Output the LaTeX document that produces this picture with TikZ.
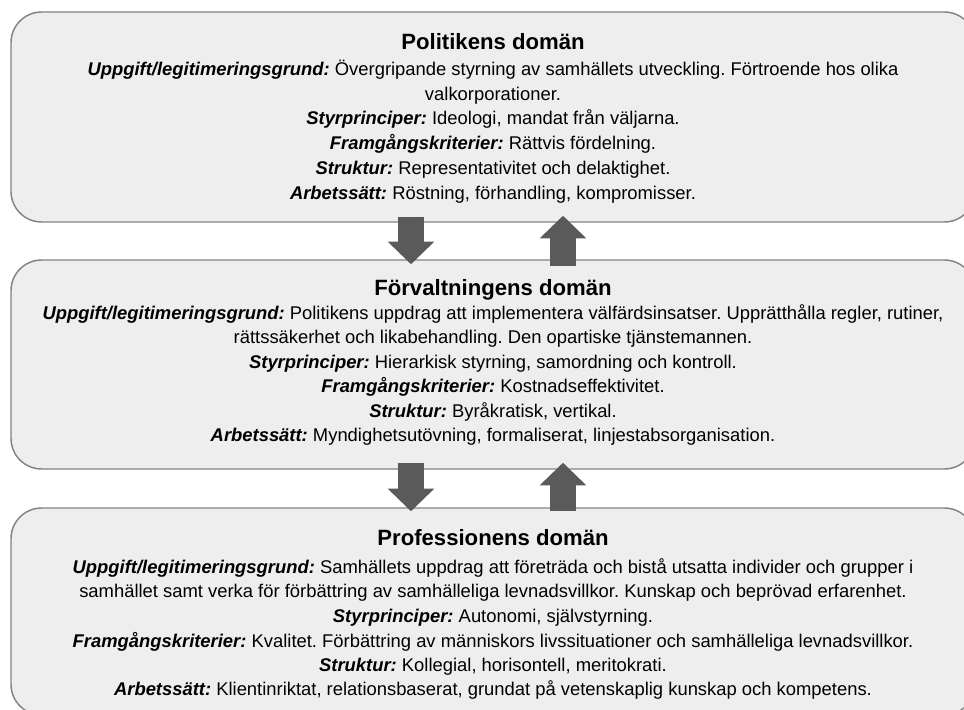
\documentclass[tikz,border=0pt]{standalone}
\usepackage{fontspec}
\setmainfont{Liberation Sans}
\usetikzlibrary{calc,arrows.meta}
\definecolor{boxfill}{HTML}{EEEEEE}
\definecolor{boxline}{HTML}{838383}
\definecolor{arrowgray}{HTML}{5A5A5A}
\newcommand\dlabel[1]{\textbf{\textit{#1}}}
\frenchspacing
\begin{document}
\frenchspacing
\begin{tikzpicture}[x=0.75pt,y=-0.75pt,
  domainbox/.style={draw=boxline, fill=boxfill, line width=1.1pt, rounded corners=23pt,
    minimum width=723pt, inner sep=0pt},
  titletext/.style={font=\fontsize{16.6}{19}\selectfont\bfseries, anchor=base, inner sep=0pt},
  bodytext/.style={font=\fontsize{13.8}{16}\selectfont, anchor=base, inner sep=0pt},
  blockarrow/.style={draw=arrowgray, line width=19pt,
    -{Triangle[width=34pt,length=17pt,fill=arrowgray]}}
]
\useasboundingbox (0,0) rectangle (964,710);
\clip (0,0) rectangle (964,710);
\fill[white] (0,0) rectangle (964,710);

% boxes
\node[domainbox, minimum height=157.5pt] (pol) at (493,117) {};
\node[domainbox, minimum height=156.75pt] (forv) at (493,364.5) {};
\node[domainbox, minimum height=155.25pt] (prof) at (493,611.5) {};

% Politikens domän
\node[titletext] (polT) at ($(pol.north)+(0,38)$) {Politikens domän};
\node[bodytext] (pol1) at ($(pol.north)+(0,64)$) {\dlabel{Uppgift/legitimeringsgrund:} Övergripande styrning av samhällets utveckling. Förtroende hos olika};
\node[bodytext] (pol2) at ($(pol.north)+(0,88.8)$) {valkorporationer.};
\node[bodytext] (pol3) at ($(pol.north)+(0,113.6)$) {\dlabel{Styrprinciper:} Ideologi, mandat från väljarna.};
\node[bodytext] (pol4) at ($(pol.north)+(0,138.4)$) {\dlabel{Framgångskriterier:} Rättvis fördelning.};
\node[bodytext] (pol5) at ($(pol.north)+(0,163.2)$) {\dlabel{Struktur:} Representativitet och delaktighet.};
\node[bodytext] (pol6) at ($(pol.north)+(0,188)$) {\dlabel{Arbetssätt:} Röstning, förhandling, kompromisser.};

% Förvaltningens domän
\node[titletext] (forvT) at ($(forv.north)+(0,36.5)$) {Förvaltningens domän};
\node[bodytext] (forv1) at ($(forv.north)+(0,60)$) {\dlabel{Uppgift/legitimeringsgrund:} Politikens uppdrag att implementera välfärdsinsatser. Upprätthålla regler, rutiner,};
\node[bodytext] (forv2) at ($(forv.north)+(0,84.5)$) {rättssäkerhet och likabehandling. Den opartiske tjänstemannen.};
\node[bodytext] (forv3) at ($(forv.north)+(0,109)$) {\dlabel{Styrprinciper:} Hierarkisk styrning, samordning och kontroll.};
\node[bodytext] (forv4) at ($(forv.north)+(0,133.5)$) {\dlabel{Framgångskriterier:} Kostnadseffektivitet.};
\node[bodytext] (forv5) at ($(forv.north)+(0,158)$) {\dlabel{Struktur:} Byråkratisk, vertikal.};
\node[bodytext] (forv6) at ($(forv.north)+(0,182.5)$) {\dlabel{Arbetssätt:} Myndighetsutövning, formaliserat, linjestabsorganisation.};

% Professionens domän
\node[titletext] (profT) at ($(prof.north)+(0,38.5)$) {Professionens domän};
\node[bodytext] (prof1) at ($(prof.north)+(0,66)$) {\dlabel{Uppgift/legitimeringsgrund:} Samhällets uppdrag att företräda och bistå utsatta individer och grupper i};
\node[bodytext] (prof2) at ($(prof.north)+(0,90.6)$) {samhället samt verka för förbättring av samhälleliga levnadsvillkor. Kunskap och beprövad erfarenhet.};
\node[bodytext] (prof3) at ($(prof.north)+(0,115.2)$) {\dlabel{Styrprinciper:} Autonomi, självstyrning.};
\node[bodytext] (prof4) at ($(prof.north)+(0,139.8)$) {\dlabel{Framgångskriterier:} Kvalitet. Förbättring av människors livssituationer och samhälleliga levnadsvillkor.};
\node[bodytext] (prof5) at ($(prof.north)+(0,164.4)$) {\dlabel{Struktur:} Kollegial, horisontell, meritokrati.};
\node[bodytext] (prof6) at ($(prof.north)+(0,188)$) {\dlabel{Arbetssätt:} Klientinriktat, relationsbaserat, grundat på vetenskaplig kunskap och kompetens.};

% block arrows
\draw[blockarrow] ($(pol.south)+(-82,-6)$) -- ($(forv.north)+(-82,5)$);
\draw[blockarrow] ($(forv.north)+(70,7)$) -- ($(pol.south)+(70,-7)$);
\draw[blockarrow] ($(forv.south)+(-82,-7)$) -- ($(prof.north)+(-82,4)$);
\draw[blockarrow] ($(prof.north)+(70,4)$) -- ($(forv.south)+(70,-7)$);
\end{tikzpicture}
\end{document}
